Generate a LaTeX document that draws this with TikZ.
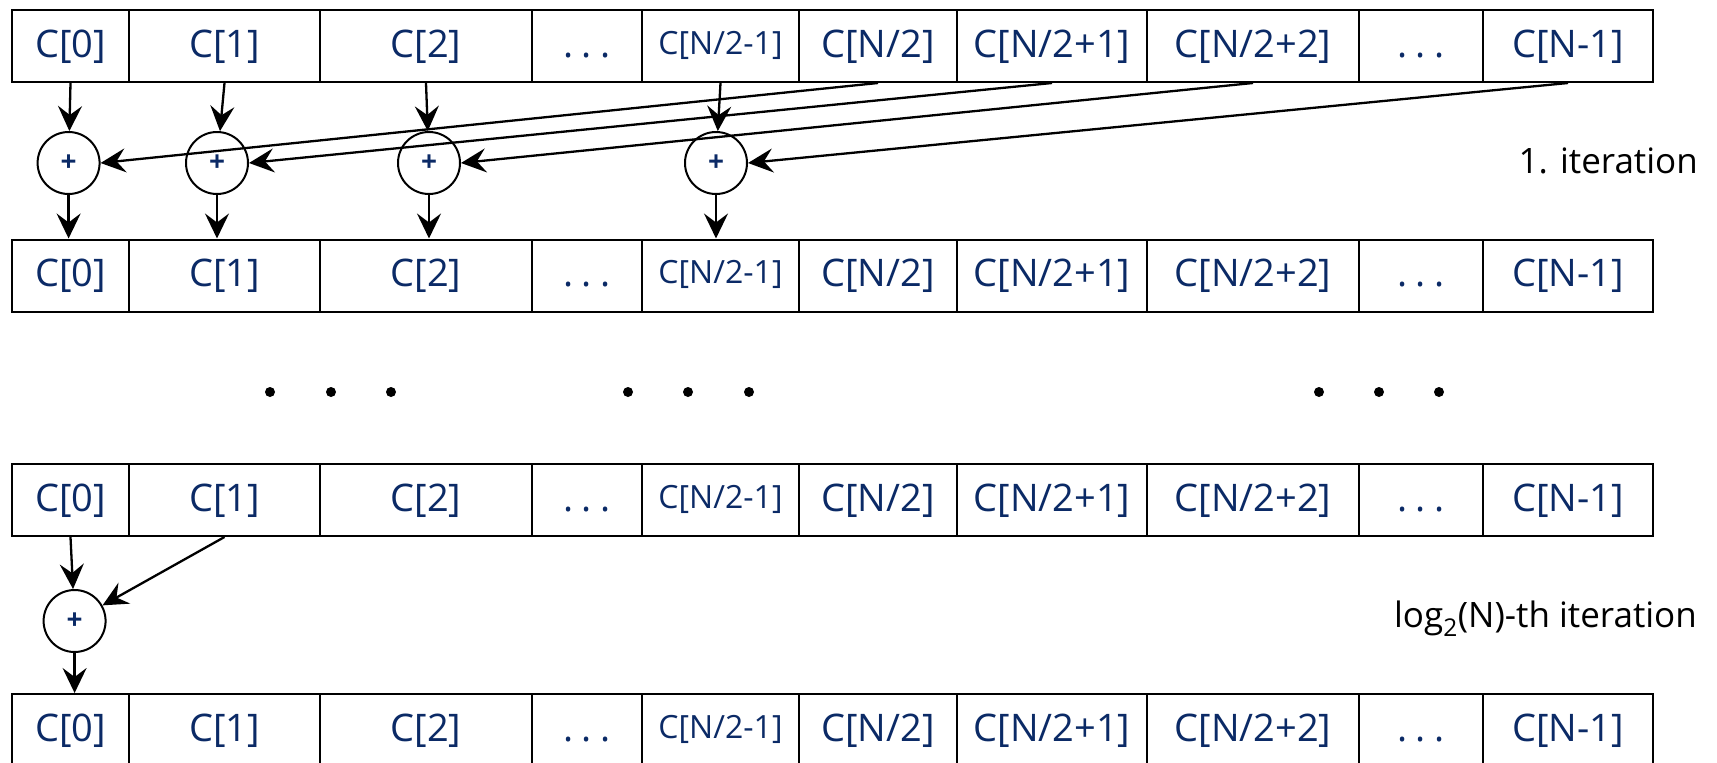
\documentclass[tikz,border=0pt]{standalone}
\usepackage{fontspec}
\setmainfont{Open Sans}
\usetikzlibrary{arrows.meta}
\definecolor{navy}{HTML}{0B2A66}

\tikzset{
  cell/.style={draw, line width=2pt, inner sep=0pt, text=navy,
    text height=30pt, text depth=8pt,
    font=\fontsize{38}{44}\selectfont},
  cellnormal/.style={},
  cellsmall/.style={font=\fontsize{32}{38}\selectfont, text height=24pt, text depth=8pt},
  adder/.style={draw, circle, line width=2pt, minimum size=62pt, inner sep=0pt,
    text=navy, font=\bfseries\fontsize{28}{30}\selectfont},
  flow/.style={line width=2.3pt, -{Stealth[length=25pt,width=24pt,inset=9pt]}},
  iterlabel/.style={inner sep=0pt, font=\fontsize{35}{40}\selectfont},
  gapdot/.style={fill=black},
}

% one row of the array: #1 = row name, #2 = vertical centre
\newcommand{\arrayrow}[2]{%
  \foreach \l/\r/\t/\s [count=\i from 0] in {
      12/129/{C[0]}/cellnormal,
      129/320/{C[1]}/cellnormal,
      320/532/{C[2]}/cellnormal,
      532/642/{.\hspace{0.22em}.\hspace{0.22em}.}/cellnormal,
      642/799/{C[N/2-1]}/cellsmall,
      799/957/{C[N/2]}/cellnormal,
      957/1147/{C[N/2+1]}/cellnormal,
      1147/1359/{C[N/2+2]}/cellnormal,
      1359/1483/{.\hspace{0.22em}.\hspace{0.22em}.}/cellnormal,
      1483/1653/{C[N-1]}/cellnormal}{
    \node[cell, \s, minimum width={\r-\l}, minimum height=72]
      (#1c\i) at ({(\l+\r)/2}, #2) {\t};
  }%
}

\begin{document}
\begin{tikzpicture}[x=1pt, y=-1pt]
  \useasboundingbox (0,0) rectangle (1717,763);

  % the four array states
  \arrayrow{ra}{46}
  \arrayrow{rb}{275.5}
  \arrayrow{rc}{500}
  \arrayrow{rd}{730}

  % first iteration: pairwise additions
  \node[adder] (p0) at (68.6,163) {+};
  \node[adder] (p1) at (217,163) {+};
  \node[adder] (p2) at (429,163) {+};
  \node[adder] (p3) at (716,163) {+};

  \draw[flow] (rac0.south) -- (p0);
  \draw[flow] (rac1.south) -- (p1);
  \draw[flow] (rac2.south) -- (p2);
  \draw[flow] (rac4.south) -- (p3);

  \draw[flow] (rac5.south) -- (p0.east);
  \draw[flow] (rac6.south) -- (p1.east);
  \draw[flow] (rac7.south) -- (p2.east);
  \draw[flow] (rac9.south) -- (p3.east);

  \draw[flow] (p0.south) -- (p0 |- rbc0.north);
  \draw[flow] (p1.south) -- (p1 |- rbc0.north);
  \draw[flow] (p2.south) -- (p2 |- rbc0.north);
  \draw[flow] (p3.south) -- (p3 |- rbc0.north);

  % elided intermediate iterations
  \foreach \x in {270,331,391,628,688,749,1319,1379,1439}
    \fill[gapdot] (\x,392) circle (5pt);

  % last iteration
  \node[adder] (q) at (74.6,621) {+};
  \draw[flow] (rcc0.south) -- (q);
  \draw[flow] (rcc1.south) -- (q);
  \draw[flow] (q.south) -- (q |- rdc0.north);

  % iteration labels
  \node[iterlabel, anchor=base east] (it1) at (1698,173) {1. iteration};
  \node[iterlabel, anchor=base east] (itn) at (1697,627) {log\textsubscript{2}(N)-th iteration};
\end{tikzpicture}
\end{document}
